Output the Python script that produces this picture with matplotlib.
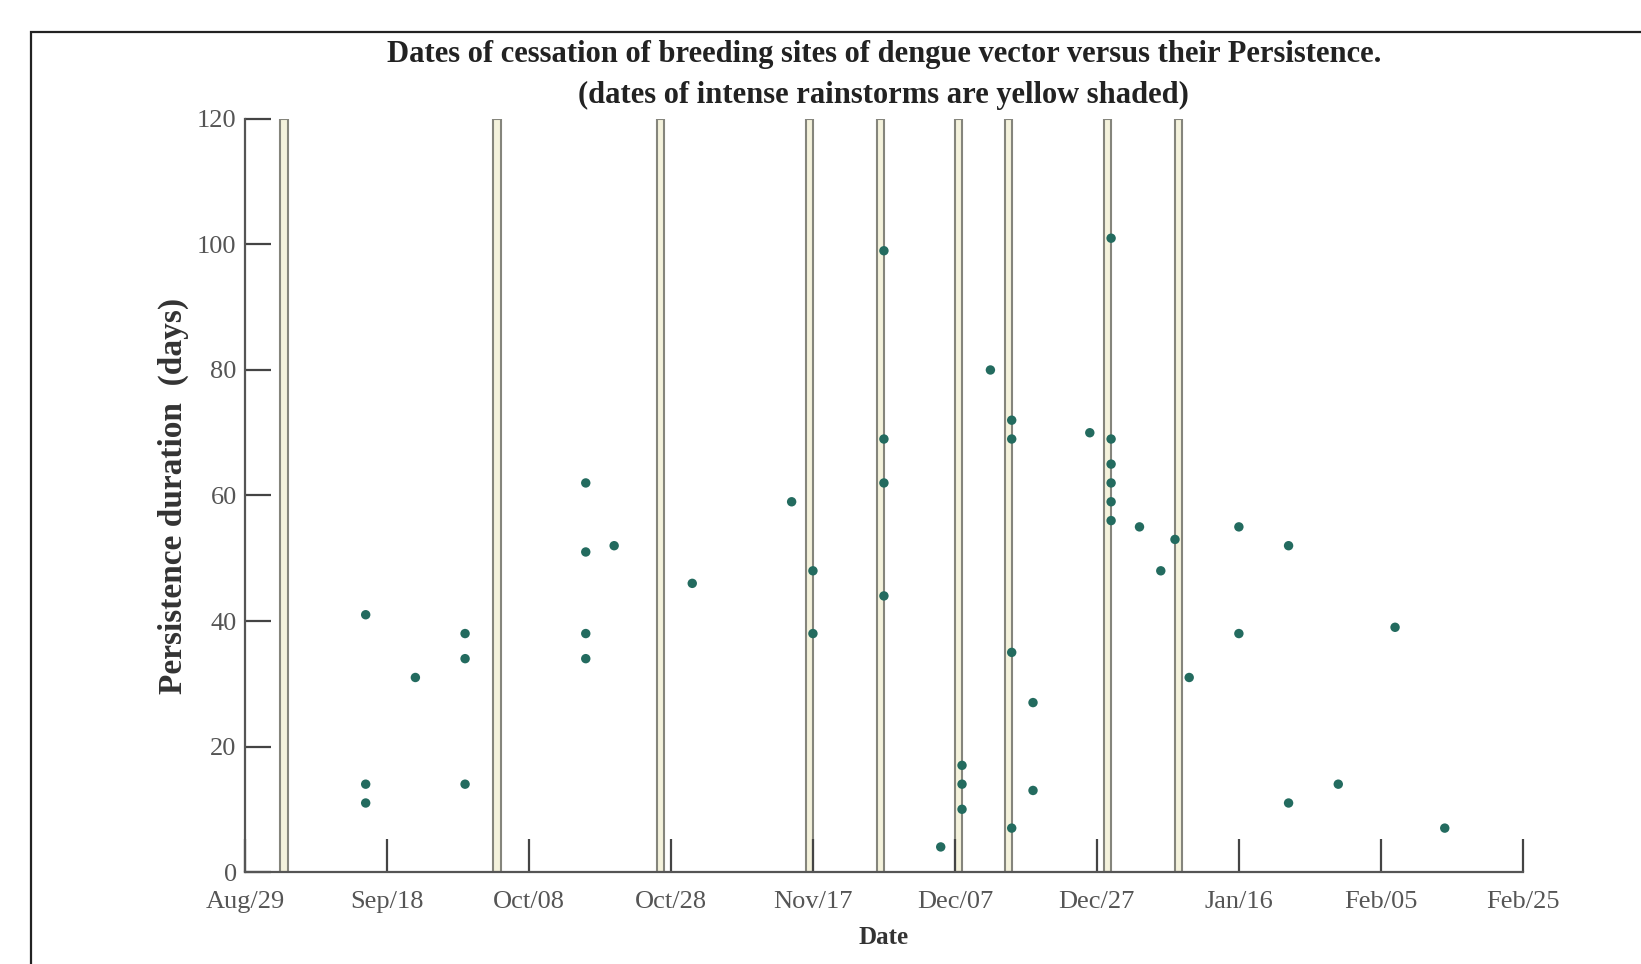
import pandas as pd
import matplotlib
matplotlib.use('Agg')
import matplotlib.pyplot as plt
import matplotlib.dates as mdates
from matplotlib.patches import Rectangle

# Dates of cessation of breeding sites and their persistence (days)
site_dates = ['2013-09-15', '2013-09-15', '2013-09-15',
              '2013-09-22',
              '2013-09-29', '2013-09-29', '2013-09-29',
              '2013-10-16', '2013-10-16', '2013-10-16', '2013-10-16',
              '2013-10-20', '2013-10-31', '2013-11-14',
              '2013-11-17', '2013-11-17',
              '2013-11-27', '2013-11-27', '2013-11-27', '2013-11-27',
              '2013-12-05',
              '2013-12-08', '2013-12-08', '2013-12-08',
              '2013-12-12',
              '2013-12-15', '2013-12-15', '2013-12-15', '2013-12-15',
              '2013-12-18', '2013-12-18',
              '2013-12-26',
              '2013-12-29', '2013-12-29', '2013-12-29', '2013-12-29', '2013-12-29', '2013-12-29',
              '2014-01-02', '2014-01-05', '2014-01-07', '2014-01-09',
              '2014-01-16', '2014-01-16',
              '2014-01-23', '2014-01-23',
              '2014-01-30', '2014-02-07', '2014-02-14']
persistence = [41, 14, 11,
               31,
               38, 34, 14,
               62, 51, 38, 34,
               52, 46, 59,
               48, 38,
               99, 69, 62, 44,
               4,
               17, 14, 10,
               80,
               72, 69, 35, 7,
               27, 13,
               70,
               101, 69, 65, 62, 59, 56,
               55, 48, 53, 31,
               55, 38,
               52, 11,
               14, 39, 7]

# Dates of intense rainstorms (shaded)
rain_dates = ['2013-09-04', '2013-10-04', '2013-10-27', '2013-11-17', '2013-11-27',
              '2013-12-08', '2013-12-15', '2013-12-29', '2014-01-08']

tick_dates = ['2013-08-29', '2013-09-18', '2013-10-08', '2013-10-28', '2013-11-17',
              '2013-12-07', '2013-12-27', '2014-01-16', '2014-02-05', '2014-02-25']
tick_labels = ['Aug/29', 'Sep/18', 'Oct/08', 'Oct/28', 'Nov/17',
               'Dec/07', 'Dec/27', 'Jan/16', 'Feb/05', 'Feb/25']

x = mdates.date2num(pd.to_datetime(site_dates))
rain = mdates.date2num(pd.to_datetime(rain_dates))
ticks = mdates.date2num(pd.to_datetime(tick_dates))

plt.rcParams['font.family'] = ['Liberation Serif', 'DejaVu Serif']

fig = plt.figure(figsize=(16.41, 9.64), dpi=100)
ax = fig.add_axes([0.1493, 0.0954, 0.7787, 0.7812])

# outer frame (top and left edges visible)
fig.patches.append(Rectangle((0.0189, -0.2), 1.2, 1.2 - 0.0332, transform=fig.transFigure,
                             fill=False, edgecolor='#222222', linewidth=1.6, clip_on=False))

for r in rain:
    ax.add_patch(Rectangle((r - 1, 0), 1, 120, facecolor='#f4f2dc',
                           edgecolor='#85857c', linewidth=1.5, zorder=1))

ax.scatter(x, persistence, s=46, color='#236b5f', edgecolors='none', zorder=3)

ax.set_xlim(ticks[0], ticks[-1])
ax.set_ylim(0, 120)
ax.set_xticks(ticks)
ax.set_xticklabels(tick_labels)
ax.set_yticks(range(0, 121, 20))

for side in ['top', 'right']:
    ax.spines[side].set_visible(False)
for side in ['left', 'bottom']:
    ax.spines[side].set_linewidth(1.6)
    ax.spines[side].set_color('#555555')

ax.tick_params(axis='x', direction='in', length=24, width=1.6, color='#444444',
               labelsize=19, labelcolor='#555555', pad=14)
ax.tick_params(axis='y', direction='in', length=19, width=1.6, color='#444444',
               labelsize=19, labelcolor='#555555', pad=6)

ax.set_ylabel('Persistence duration  (days)', fontsize=24, fontweight='bold', color='#333333')
ax.yaxis.set_label_coords(-0.044, 0.5)
ax.set_xlabel('Date', fontsize=18, fontweight='bold', color='#333333')
ax.xaxis.set_label_coords(0.5, -0.071)

ax.text(0.5, 1.0585, 'Dates of cessation of breeding sites of dengue vector versus their Persistence.\n'
        '(dates of intense rainstorms are yellow shaded)',
        transform=ax.transAxes, ha='center', va='center', fontsize=22, fontweight='bold',
        color='#222222', linespacing=1.55)

fig.savefig('out.png', dpi=100)
